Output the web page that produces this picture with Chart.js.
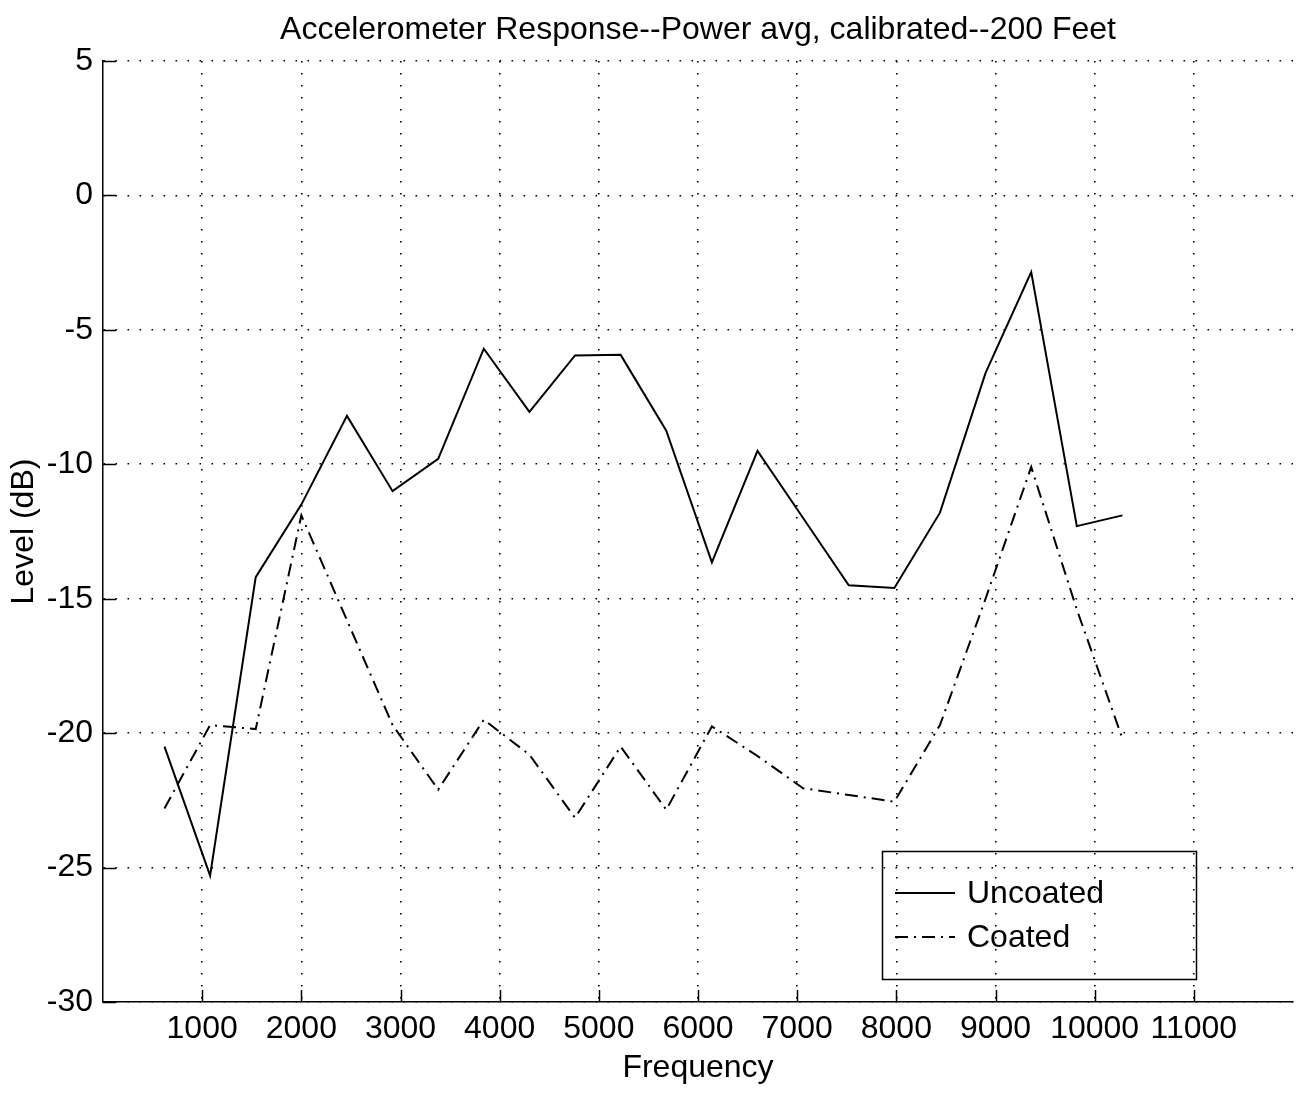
<!DOCTYPE html>
<html>
<head>
<meta charset="utf-8">
<script src="https://cdn.jsdelivr.net/npm/chart.js@4.4.0/dist/chart.umd.min.js"></script>
<style>
  html, body { margin: 0; padding: 0; background: #fff; }
  #wrap { width: 1298px; height: 1100px; }
</style>
</head>
<body>
<div id="wrap"><canvas id="c" width="1298" height="1100"></canvas></div>
<script>
// Band centre frequencies (Hz)
const frequencyHz = [620, 1080, 1540, 2000, 2460, 2920, 3380, 3840, 4300, 4760, 5220,
                     5680, 6140, 6600, 7060, 7520, 7980, 8440, 8900, 9360, 9820, 10280];
// Levels (dB), power averaged and calibrated, 200 ft
const uncoatedDb = [-20.5, -25.3, -14.2, -11.5, -8.2, -11.0, -9.8, -5.7, -8.05, -5.95, -5.93,
                    -8.75, -13.65, -9.5, -12.0, -14.5, -14.6, -11.8, -6.6, -2.85, -12.3, -11.9];
const coatedDb   = [-22.8, -19.7, -19.85, -11.9, -15.8, -19.7, -22.1, -19.5, -20.8, -23.15, -20.5,
                    -22.85, -19.75, -20.85, -22.05, -22.3, -22.55, -19.7, -15.0, -10.1, -15.4, -20.2];
const xTickValues = [1000, 2000, 3000, 4000, 5000, 6000, 7000, 8000, 9000, 10000, 11000];
const yTickValues = [-30, -25, -20, -15, -10, -5, 0, 5];
const seriesNames = ['Uncoated', 'Coated'];
const chartTitle = 'Accelerometer Response--Power avg, calibrated--200 Feet';
const xAxisTitle = 'Frequency';
const yAxisTitle = 'Level (dB)';

const FONT = '"Liberation Sans", Arial, Helvetica, sans-serif';
const DOT_GRID = [1.6, 10.4];
const DASH_DOT = [13, 6, 2, 6];

const toPoints = (ys) => frequencyHz.map((f, i) => ({ x: f, y: ys[i] }));

// Short tick marks pointing into the plot area, MATLAB style
const insideTicks = {
  id: 'insideTicks',
  afterDatasetsDraw(chart) {
    const { ctx, chartArea: a, scales: { x, y } } = chart;
    ctx.save();
    ctx.strokeStyle = '#000';
    ctx.lineWidth = 1.5;
    ctx.beginPath();
    xTickValues.forEach(v => {
      const px = Math.round(x.getPixelForValue(v)) + 0.5;
      ctx.moveTo(px, a.bottom);
      ctx.lineTo(px, a.bottom - 12);
    });
    yTickValues.forEach(v => {
      const py = Math.round(y.getPixelForValue(v)) + 0.5;
      ctx.moveTo(a.left, py);
      ctx.lineTo(a.left + 13, py);
    });
    ctx.stroke();
    ctx.restore();
  }
};

// Boxed legend in the lower right of the plot
const boxedLegend = {
  id: 'boxedLegend',
  afterDraw(chart) {
    const { ctx, chartArea: a } = chart;
    const bx = a.right - 411, by = a.bottom - 151, bw = 314, bh = 128;
    ctx.save();
    ctx.strokeStyle = '#000';
    ctx.lineWidth = 1.5;
    ctx.strokeRect(bx + 0.5, by + 0.5, bw, bh);
    ctx.font = '32px ' + FONT;
    ctx.fillStyle = '#000';
    ctx.textBaseline = 'middle';
    chart.data.datasets.forEach((ds, i) => {
      const ly = by + 42 + i * 44;
      ctx.beginPath();
      ctx.lineWidth = ds.borderWidth;
      ctx.setLineDash(ds.borderDash || []);
      ctx.moveTo(bx + 13, ly);
      ctx.lineTo(bx + 73, ly);
      ctx.stroke();
      ctx.setLineDash([]);
      ctx.fillText(ds.label, bx + 85, ly + 1);
    });
    ctx.restore();
  }
};

new Chart(document.getElementById('c'), {
  type: 'line',
  data: {
    datasets: [
      { label: seriesNames[0], data: toPoints(uncoatedDb), borderColor: '#000', borderWidth: 2,
        pointRadius: 0, tension: 0, fill: false },
      { label: seriesNames[1], data: toPoints(coatedDb), borderColor: '#000', borderWidth: 2,
        borderDash: DASH_DOT, pointRadius: 0, tension: 0, fill: false }
    ]
  },
  options: {
    responsive: false,
    animation: false,
    devicePixelRatio: 1,
    layout: { padding: { left: 0, right: 5, top: 0, bottom: 0 } },
    plugins: {
      legend: { display: false },
      tooltip: { enabled: false },
      title: {
        display: true, text: chartTitle, color: '#000', fullSize: false,
        font: { family: FONT, size: 32, weight: 'normal' },
        padding: { top: 10.8, bottom: 11.8 }
      }
    },
    scales: {
      x: {
        type: 'linear', min: 0, max: 12000,
        afterBuildTicks: (s) => { s.ticks = xTickValues.map(v => ({ value: v })); },
        afterFit: (s) => { s.height = 98; },
        ticks: { color: '#000', font: { family: FONT, size: 32 }, padding: 8,
                 autoSkip: false, maxRotation: 0, callback: (v) => String(v) },
        grid: { color: '#000', lineWidth: 1.6, drawTicks: false },
        border: { display: true, color: '#000', width: 1.5, dash: DOT_GRID },
        title: { display: true, text: xAxisTitle, color: '#000',
                 font: { family: FONT, size: 32 }, padding: { top: 0, bottom: 12.8 } }
      },
      y: {
        type: 'linear', min: -30, max: 5,
        afterBuildTicks: (s) => { s.ticks = yTickValues.map(v => ({ value: v })); },
        afterFit: (s) => { s.width = 103; },
        ticks: { color: '#000', font: { family: FONT, size: 32 }, padding: 10,
                 callback: (v) => String(v) },
        grid: { color: '#000', lineWidth: 1.6, drawTicks: false },
        border: { display: true, color: '#000', width: 1.5, dash: DOT_GRID },
        title: { display: true, text: yAxisTitle, color: '#000',
                 font: { family: FONT, size: 32 }, padding: { top: 4.8, bottom: 0 } }
      }
    }
  },
  plugins: [insideTicks, boxedLegend]
});
</script>
</body>
</html>
